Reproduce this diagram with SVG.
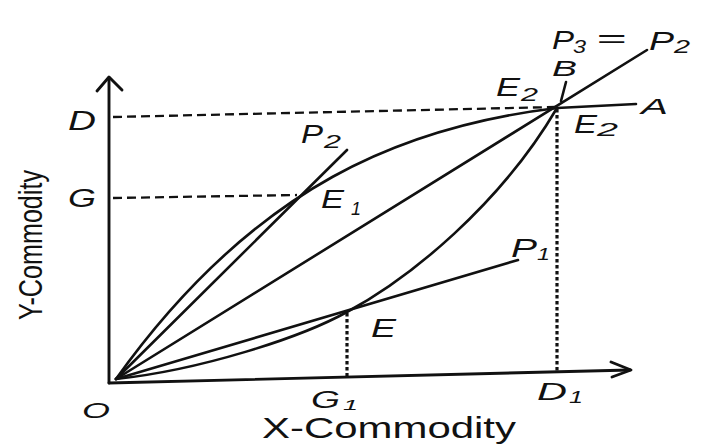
<svg xmlns="http://www.w3.org/2000/svg" width="703" height="445" viewBox="0 0 703 445">
<style>
.ln{fill:none;stroke:#111;stroke-width:2.6;stroke-linecap:round;stroke-linejoin:round}
.ax{fill:none;stroke:#111;stroke-width:2.9;stroke-linecap:round;stroke-linejoin:round}
.dash{fill:none;stroke:#111;stroke-width:2.3;stroke-dasharray:9 5}
.dot{fill:none;stroke:#111;stroke-width:3.2;stroke-dasharray:3.5 2.5}
.lb{font-family:"Liberation Sans",Arial,sans-serif;font-style:italic;fill:#111}
.ttl{font-family:"Liberation Sans",Arial,sans-serif;fill:#111}
</style>
<rect width="703" height="445" fill="#fff"/>
<g id="axes">
<line class="ax" x1="109" y1="383" x2="109" y2="78"/>
<polyline class="ax" points="97,91 109,77 122,90"/>
<line class="ax" x1="109" y1="383" x2="630" y2="370"/>
<polyline class="ax" points="611,362 631,370 612,377"/>
</g>
<g id="guides">
<line class="dash" x1="113" y1="117" x2="556" y2="107"/>
<line class="dash" x1="113" y1="198" x2="297" y2="195"/>
<line class="dot" x1="557" y1="109" x2="557" y2="372"/>
<line class="dot" x1="347" y1="313" x2="347" y2="378"/>
</g>
<g id="connectors">
<path id="offer-upper" class="ln" d="M116,379 C256,183 407,126 557,108 L636,104"/>
<path id="offer-lower" class="ln" d="M116,379 C200,370 300,338 347,312 C410,278 500,205 557,108"/>
<line id="ray-P2" class="ln" x1="116" y1="379" x2="347" y2="150"/>
<line id="ray-P3" class="ln" x1="116" y1="379" x2="647" y2="50"/>
<line id="ray-P1" class="ln" x1="116" y1="379" x2="518" y2="260"/>
<line id="tick-B" class="ln" x1="566" y1="82" x2="561" y2="101"/>
</g>
<g id="labels">
<text class="lb" x="68" y="130" font-size="27" textLength="28" lengthAdjust="spacingAndGlyphs">D</text>
<text class="lb" x="68" y="207" font-size="25" textLength="28" lengthAdjust="spacingAndGlyphs">G</text>
<text class="lb" x="301" y="143" font-size="26" textLength="22" lengthAdjust="spacingAndGlyphs">P</text>
<text class="lb" x="324" y="148" font-size="19" textLength="17" lengthAdjust="spacingAndGlyphs">2</text>
<text class="lb" x="321" y="208" font-size="25" textLength="23" lengthAdjust="spacingAndGlyphs">E</text>
<text class="lb" x="351" y="215" font-size="18" textLength="10" lengthAdjust="spacingAndGlyphs">1</text>
<text class="lb" x="371" y="337" font-size="25" textLength="25" lengthAdjust="spacingAndGlyphs">E</text>
<text class="lb" x="511" y="257" font-size="25" textLength="26" lengthAdjust="spacingAndGlyphs">P</text>
<text class="lb" x="537" y="260" font-size="17" textLength="13" lengthAdjust="spacingAndGlyphs">1</text>
<text class="lb" x="311" y="408" font-size="23" textLength="29" lengthAdjust="spacingAndGlyphs">G</text>
<text class="lb" x="343" y="410" font-size="15" textLength="15" lengthAdjust="spacingAndGlyphs">1</text>
<text class="lb" x="537" y="400" font-size="24" textLength="30" lengthAdjust="spacingAndGlyphs">D</text>
<text class="lb" x="569" y="403" font-size="16" textLength="14" lengthAdjust="spacingAndGlyphs">1</text>
<text class="lb" x="82" y="418" font-size="22" textLength="28" lengthAdjust="spacingAndGlyphs">O</text>
<text class="lb" x="496" y="96" font-size="25" textLength="24" lengthAdjust="spacingAndGlyphs">E</text>
<text class="lb" x="521" y="101" font-size="18" textLength="17" lengthAdjust="spacingAndGlyphs">2</text>
<text class="lb" x="552" y="76" font-size="22" textLength="25" lengthAdjust="spacingAndGlyphs">B</text>
<text class="lb" x="574" y="133" font-size="25" textLength="23" lengthAdjust="spacingAndGlyphs">E</text>
<text class="lb" x="597" y="136" font-size="18" textLength="21" lengthAdjust="spacingAndGlyphs">2</text>
<text class="lb" x="641" y="114" font-size="22" textLength="27" lengthAdjust="spacingAndGlyphs">A</text>
<text class="lb" x="552" y="49" font-size="25" textLength="22" lengthAdjust="spacingAndGlyphs">P</text>
<text class="lb" x="573" y="53" font-size="18" textLength="13" lengthAdjust="spacingAndGlyphs">3</text>
<text class="lb" x="596" y="47" font-size="26" textLength="30" lengthAdjust="spacingAndGlyphs">=</text>
<text class="lb" x="649" y="50" font-size="25" textLength="25" lengthAdjust="spacingAndGlyphs">P</text>
<text class="lb" x="674" y="53" font-size="18" textLength="16" lengthAdjust="spacingAndGlyphs">2</text>
<text class="ttl" x="262" y="438" font-size="29" textLength="254" lengthAdjust="spacingAndGlyphs">X-Commodity</text>
<text class="ttl" transform="translate(42,320) rotate(-90) scale(1,1.25)" x="0" y="0" font-size="26" textLength="150" lengthAdjust="spacingAndGlyphs">Y-Commodity</text>
</g>
</svg>
